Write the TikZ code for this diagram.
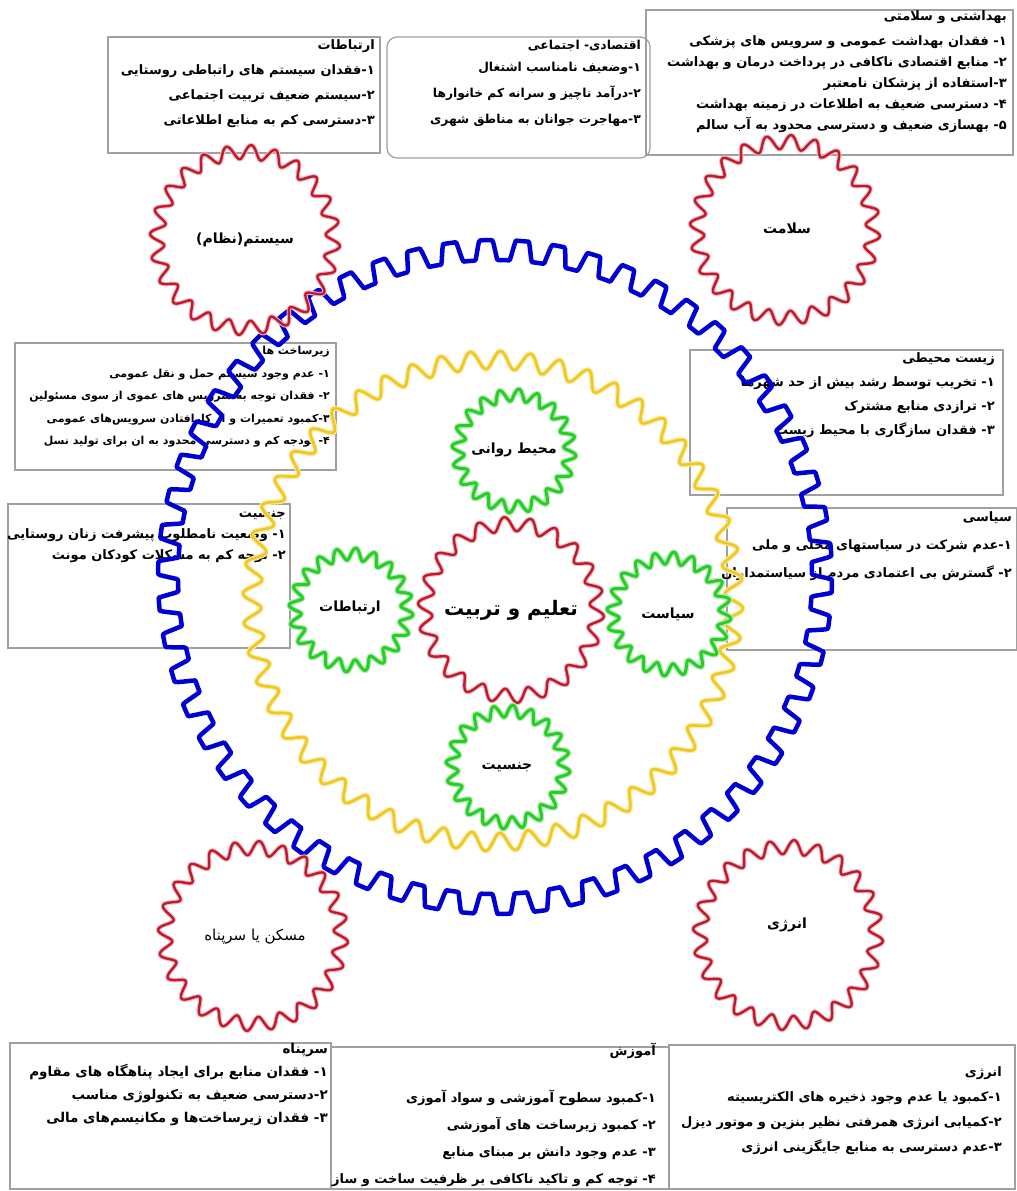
\documentclass[tikz,border=0pt]{standalone}
\usepackage{fontspec}
\newfontfamily\fafont[Script=Arabic]{DejaVu Sans}
\TeXXeTstate=1
\newcommand{\rl}[1]{\beginR #1\endR}

\definecolor{gearblue}{RGB}{0,0,210}
\definecolor{gearyellow}{RGB}{240,200,30}
\definecolor{gearred}{RGB}{195,25,45}
\definecolor{geargreen}{RGB}{40,205,40}
\definecolor{boxgray}{RGB}{160,160,160}

% wavy gear: centre x, centre y, radius, depth, teeth, style
\newcommand{\wavegear}[6]{%
  \draw[#6] plot[domain=0:360, samples=1200, variable=\t]
    ({#1+(#3+#4*sin(#5*mod(\t,360/#5)))*cos(\t)},
     {#2+(#3+#4*sin(#5*mod(\t,360/#5)))*sin(\t)}) -- cycle;}
% gear with flat teeth
\newcommand{\blockgear}[6]{%
  \draw[#6] plot[domain=0:360, samples=1600, variable=\t]
    ({#1+(#3+#4*max(-1,min(1,2.5*sin(#5*mod(\t,360/#5)))))*cos(\t)},
     {#2+(#3+#4*max(-1,min(1,2.5*sin(#5*mod(\t,360/#5)))))*sin(\t)}) -- cycle;}

\tikzset{
  infobox/.style={draw=boxgray, line width=1.2pt},
  infotext/.style={anchor=north east, align=right, inner sep=0pt,
    font=\fafont\bfseries\fontsize{13}{21}\selectfont},
  gearlabel/.style={inner sep=0pt, font=\fafont\bfseries\fontsize{14}{16}\selectfont},
}

\begin{document}
\begin{tikzpicture}[x=1pt, y=-1pt]
    \fill[white] (0,0) rectangle (1017,1191);
    \useasboundingbox (0,0) rectangle (1017,1191);

    % Boxes on top
    \draw[infobox] (108,37) rectangle (380,153);
    \draw[infobox, rounded corners=10pt] (387,37) rectangle (650,158);
    \draw[infobox] (646,10) rectangle (1013,155);

    \node[infotext, font=\fafont\bfseries\fontsize{13}{25}\selectfont] (ertebat) at (375,39) {%
        \rl{ارتباطات}\\
        \rl{۱-فقدان سیستم های راتباطی روستایی}\\
        \rl{۲-سیستم ضعیف تربیت اجتماعی}\\
        \rl{۳-دسترسی کم به منابع اطلاعاتی}};
    \node[infotext, font=\fafont\bfseries\fontsize{12.3}{26}\selectfont] (eghtesad) at (641,40) {%
        \rl{اقتصادی- اجتماعی}\\[-4pt]
        \rl{۱-وضعیف نامناسب اشتغال}\\
        \rl{۲-درآمد ناچیز و سرانه کم خانوارها}\\
        \rl{۳-مهاجرت جوانان به مناطق شهری}};
    \node[infotext] (behdasht) at (1007,10) {%
        \rl{بهداشتی و سلامتی}\\[4pt]
        \rl{۱- فقدان بهداشت عمومی و سرویس های پزشکی}\\
        \rl{۲- منابع اقتصادی ناکافی در پرداخت درمان و بهداشت}\\
        \rl{۳-استفاده از پزشکان نامعتبر}\\
        \rl{۴- دسترسی ضعیف به اطلاعات در زمینه بهداشت}\\
        \rl{۵- بهسازی ضعیف و دسترسی محدود به آب سالم}};

    % Boxes at the sides
    \draw[infobox] (15,343) rectangle (336,470);
    \draw[infobox] (690,350) rectangle (1003,495);
    \draw[infobox] (8,504) rectangle (290,648);
    \draw[infobox] (727,508) rectangle (1017,650);

    \node[infotext, font=\fafont\bfseries\fontsize{11}{22.5}\selectfont] (zirsakht) at (330,346) {%
        \rl{زیرساخت ها}\\
        \rl{۱- عدم وجود سیستم حمل و نقل عمومی}\\
        \rl{۲- فقدان توجه به سرویس های عموی از سوی مسئولین}\\
        \rl{۳-کمبود تعمیرات و از کارافتادن سرویس‌های عمومی}\\
        \rl{۴- بودجه کم و دسترسی محدود به ان برای تولید نسل}};
    \node[infotext, font=\fafont\bfseries\fontsize{13}{24}\selectfont] (zist) at (995,352) {%
        \rl{زیست محیطی}\\
        \rl{۱- تخریب توسط رشد بیش از حد شهرها}\\
        \rl{۲- ترازدی منابع مشترک}\\
        \rl{۳- فقدان سازگاری با محیط زیست}};
    \node[infotext] (jensiat) at (286,511) {%
        \rl{جنسیت}\\
        \rl{۱- وضعیت نامطلوب پیشرفت زنان روستایی}\\
        \rl{۲- توجه کم به مشکلات کودکان مونث}};
    \node[infotext, font=\fafont\bfseries\fontsize{13}{28}\selectfont] (siasi) at (1012,511) {%
        \rl{سیاسی}\\
        \rl{۱-عدم شرکت در سیاستهای محلی و ملی}\\
        \rl{۲- گسترش بی اعتمادی مردم از سیاستمداران}};

    % Boxes at the bottom
    \draw[infobox] (10,1043) rectangle (331,1189);
    \draw[infobox] (331,1047) rectangle (669,1189);
    \draw[infobox] (669,1045) rectangle (1015,1189);

    \node[infotext, font=\fafont\bfseries\fontsize{13.5}{23}\selectfont] (sarpanah) at (328,1043) {%
        \rl{سرپناه}\\
        \rl{۱- فقدان منابع برای ایجاد پناهگاه های مقاوم}\\
        \rl{۲-دسترسی ضعیف به تکنولوژی مناسب}\\
        \rl{۳- فقدان زیرساخت‌ها و مکانیسم‌های مالی}};
    \node[infotext, font=\fafont\bfseries\fontsize{13}{27}\selectfont] (amoozesh) at (656,1043) {%
        \rl{آموزش}\\[20pt]
        \rl{۱-کمبود سطوح آموزشی و سواد آموزی}\\
        \rl{۲- کمبود زیرساخت های آموزشی}\\
        \rl{۳- عدم وجود دانش بر مبنای منابع}\\
        \rl{۴- توجه کم و تاکید ناکافی بر ظرفیت ساخت و ساز}};
    \node[infotext, font=\fafont\bfseries\fontsize{13}{25}\selectfont] (energy) at (1002,1066) {%
        \rl{انرژی}\\
        \rl{۱-کمبود یا عدم وجود ذخیره های الکتریسیته}\\
        \rl{۲-کمیابی انرژی همرفتی نظیر بنزین و موتور دیزل}\\
        \rl{۳-عدم دسترسی به منابع جایگزینی انرژی}};

    % Big gears
    \wavegear{493}{601}{241}{9}{52}{gearyellow!40, line width=5pt}
    \wavegear{493}{601}{241}{9}{52}{gearyellow, line width=2.6pt}
    \blockgear{495}{577}{327}{10}{58}{gearblue, line width=4.5pt, line join=round}

    % Red gears in the corners
    \foreach \gx/\gy in {245/240, 785/230, 253/936, 788/935} {
        \wavegear{\gx}{\gy}{88}{7}{24}{gearred!30, line width=4.5pt}
        \wavegear{\gx}{\gy}{88}{7}{24}{gearred, line width=2.4pt}
    }

    % Centre gear and green gears
    \wavegear{511}{610}{86}{7}{22}{gearred!30, line width=4.5pt}
    \wavegear{511}{610}{86}{7}{22}{gearred, line width=2.4pt}
    \foreach \gx/\gy in {514/451, 351/610, 669/614, 508/767} {
        \wavegear{\gx}{\gy}{56}{6}{20}{geargreen!35, line width=5.5pt}
        \wavegear{\gx}{\gy}{56}{6}{20}{geargreen, line width=3pt}
    }

    % Gear labels
    \node[gearlabel] (nezam) at (245,240) {\rl{سیستم(نظام)}};
    \node[gearlabel] (salamat) at (787,228) {\rl{سلامت}};
    \node[gearlabel, font=\fafont\fontsize{15}{17}\selectfont] (maskan) at (255,937) {\rl{مسکن یا سرپناه}};
    \node[gearlabel] (enrg) at (787,925) {\rl{انرژی}};
    \node[gearlabel] (ravani) at (514,450) {\rl{محیط روانی}};
    \node[gearlabel] (ertebatat) at (350,608) {\rl{ارتباطات}};
    \node[gearlabel, font=\fafont\bfseries\fontsize{20}{22}\selectfont] (talim) at (511,610) {\rl{تعلیم و تربیت}};
    \node[gearlabel] (siasat) at (668,614) {\rl{سیاست}};
    \node[gearlabel] (jens) at (507,767) {\rl{جنسیت}};
\end{tikzpicture}
\end{document}
